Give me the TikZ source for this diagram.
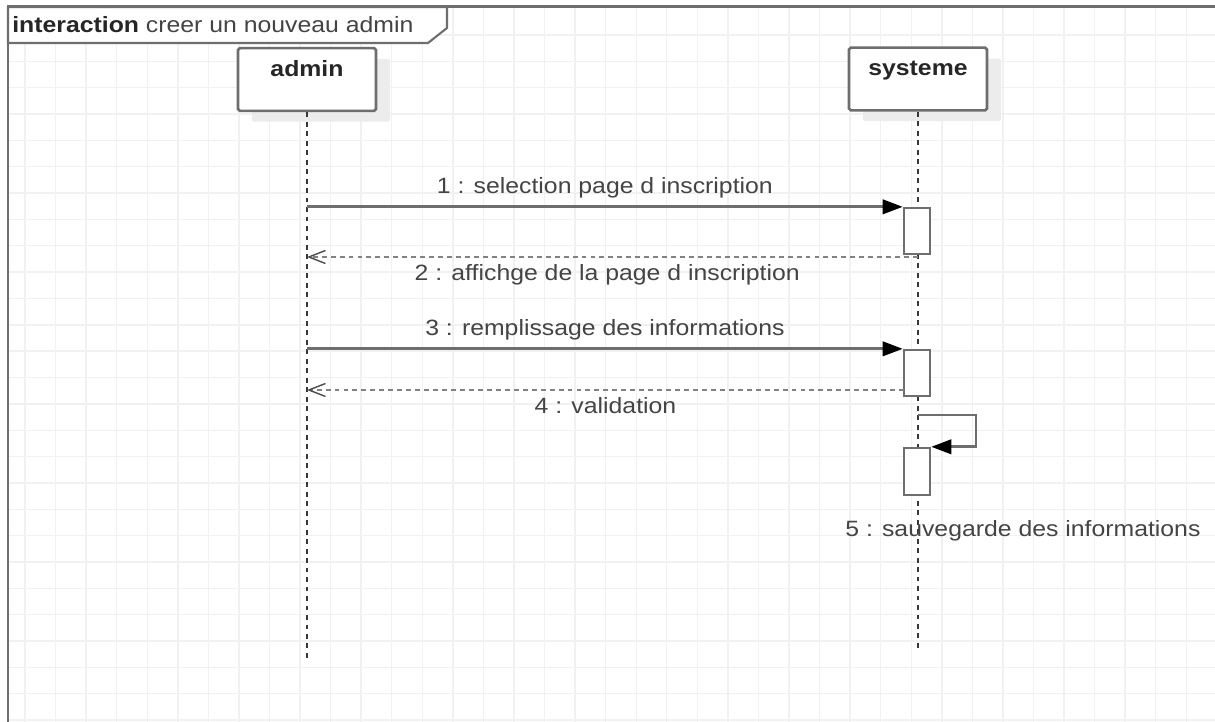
\documentclass[tikz,border=0pt]{standalone}
\usepackage{fontspec}
\setmainfont{Liberation Sans}[FakeStretch=1.12]
\usetikzlibrary{arrows.meta}
\usetikzlibrary{positioning}
\usetikzlibrary{calc}
\usetikzlibrary{shadows}

\definecolor{gridgray}{RGB}{241,241,241}
\definecolor{linegray}{RGB}{110,110,110}
\definecolor{dashgray}{RGB}{130,130,130}
\definecolor{textgray}{RGB}{68,68,68}
\definecolor{shadowgray}{RGB}{236,236,236}

\begin{document}
\begin{tikzpicture}[x=0.02cm,y=-0.02cm,
	font=\fontsize{12.6}{15}\selectfont,text=textgray,
	gridline/.style={draw=gridgray,line width=0.8pt},
	frameline/.style={draw=linegray,line width=1.7pt},
	actor/.style={draw=linegray,line width=1.5pt,fill=white,rounded corners=1pt,
		minimum width=78.5pt,inner sep=0pt,text height=15.9pt,text depth=19.8pt,
		font=\fontsize{12.6}{15}\selectfont\bfseries,text=black!85,
		drop shadow={shadow xshift=7.9pt,shadow yshift=-6.2pt,fill=shadowgray,opacity=1}},
	act/.style={draw=linegray,line width=1.5pt,fill=white,minimum width=14.7pt,inner sep=0pt},
	lifeline/.style={draw=black!78,line width=1.3pt,dash pattern=on 2.8pt off 2.6pt},
	call/.style={draw=linegray,line width=1.6pt,-{Triangle[length=11.5pt,width=8.2pt,color=black]}},
	reply/.style={draw=dashgray,line width=1.3pt,dash pattern=on 2.8pt off 2.3pt,
		-{Straight Barb[length=9.4pt,width=7.4pt,line width=0.8pt,color=black!70]}},
	lbl/.style={inner sep=0pt}]

	\useasboundingbox (0,0) rectangle (1215,722);
	\fill[white] (0,0) rectangle (1215,722);

	% background grid
	\foreach \i in {0,...,38}
		\draw[gridline] (25+30.56*\i,7) -- (25+30.56*\i,722);
	\foreach \j in {0,...,26}
		\draw[gridline] (8,35+26.35*\j) -- (1215,35+26.35*\j);

	% interaction frame and its tab
	\draw[frameline] (8,722) -- (8,7) -- (1215,7);
	\draw[draw=linegray,line width=1.2pt,fill=white] (8,43) -- (8,7) -- (447,7) -- (447,28) -- (428,43) -- cycle;
	\node[lbl,anchor=base west] (title) at (12,33) {\textcolor{black!85}{\bfseries interaction} creer un nouveau admin};

	% lifelines
	\node[actor] (admin) at (307,79.5) {admin};
	\node[actor] (systeme) at (918,79) {systeme};
	\coordinate (adminEnd) at (307,660);
	\coordinate (systemeEnd) at (918,652);
	\draw[lifeline] (admin.south) -- (adminEnd);
	\draw[lifeline] (systeme.south) -- (systemeEnd);

	% activations
	\node[act,minimum height=26pt] (a1) at (917,231) {};
	\node[act,minimum height=26pt] (a2) at (917,373) {};
	\node[act,minimum height=26.6pt] (a3) at (917,471.5) {};

	\coordinate (r1) at (918,257);
	\coordinate (r2) at (904,390);
	\coordinate (s0) at (918,415);
	\coordinate (s1) at (976,415);

	% messages
	\draw[call] (admin |- a1.north) -- node[lbl,above=4pt] {1 : selection page d inscription} (a1.north west);
	\draw[reply] (r1) -- node[lbl,below=3.8pt,xshift=-3pt] {2 : affichge de la page d inscription} (r1 -| admin);
	\draw[call] (admin |- a2.north) -- node[lbl,above=4pt] {3 : remplissage des informations} (a2.north west);
	\draw[reply] (r2) -- node[lbl,below=3.8pt] {4 : validation} (r2 -| admin);
	\draw[call] (s0) -- (s1) |- (a3.north east);
	\node[lbl,anchor=base west] (m5) at (845,537) {5 : sauvegarde des informations};
\end{tikzpicture}
\end{document}
